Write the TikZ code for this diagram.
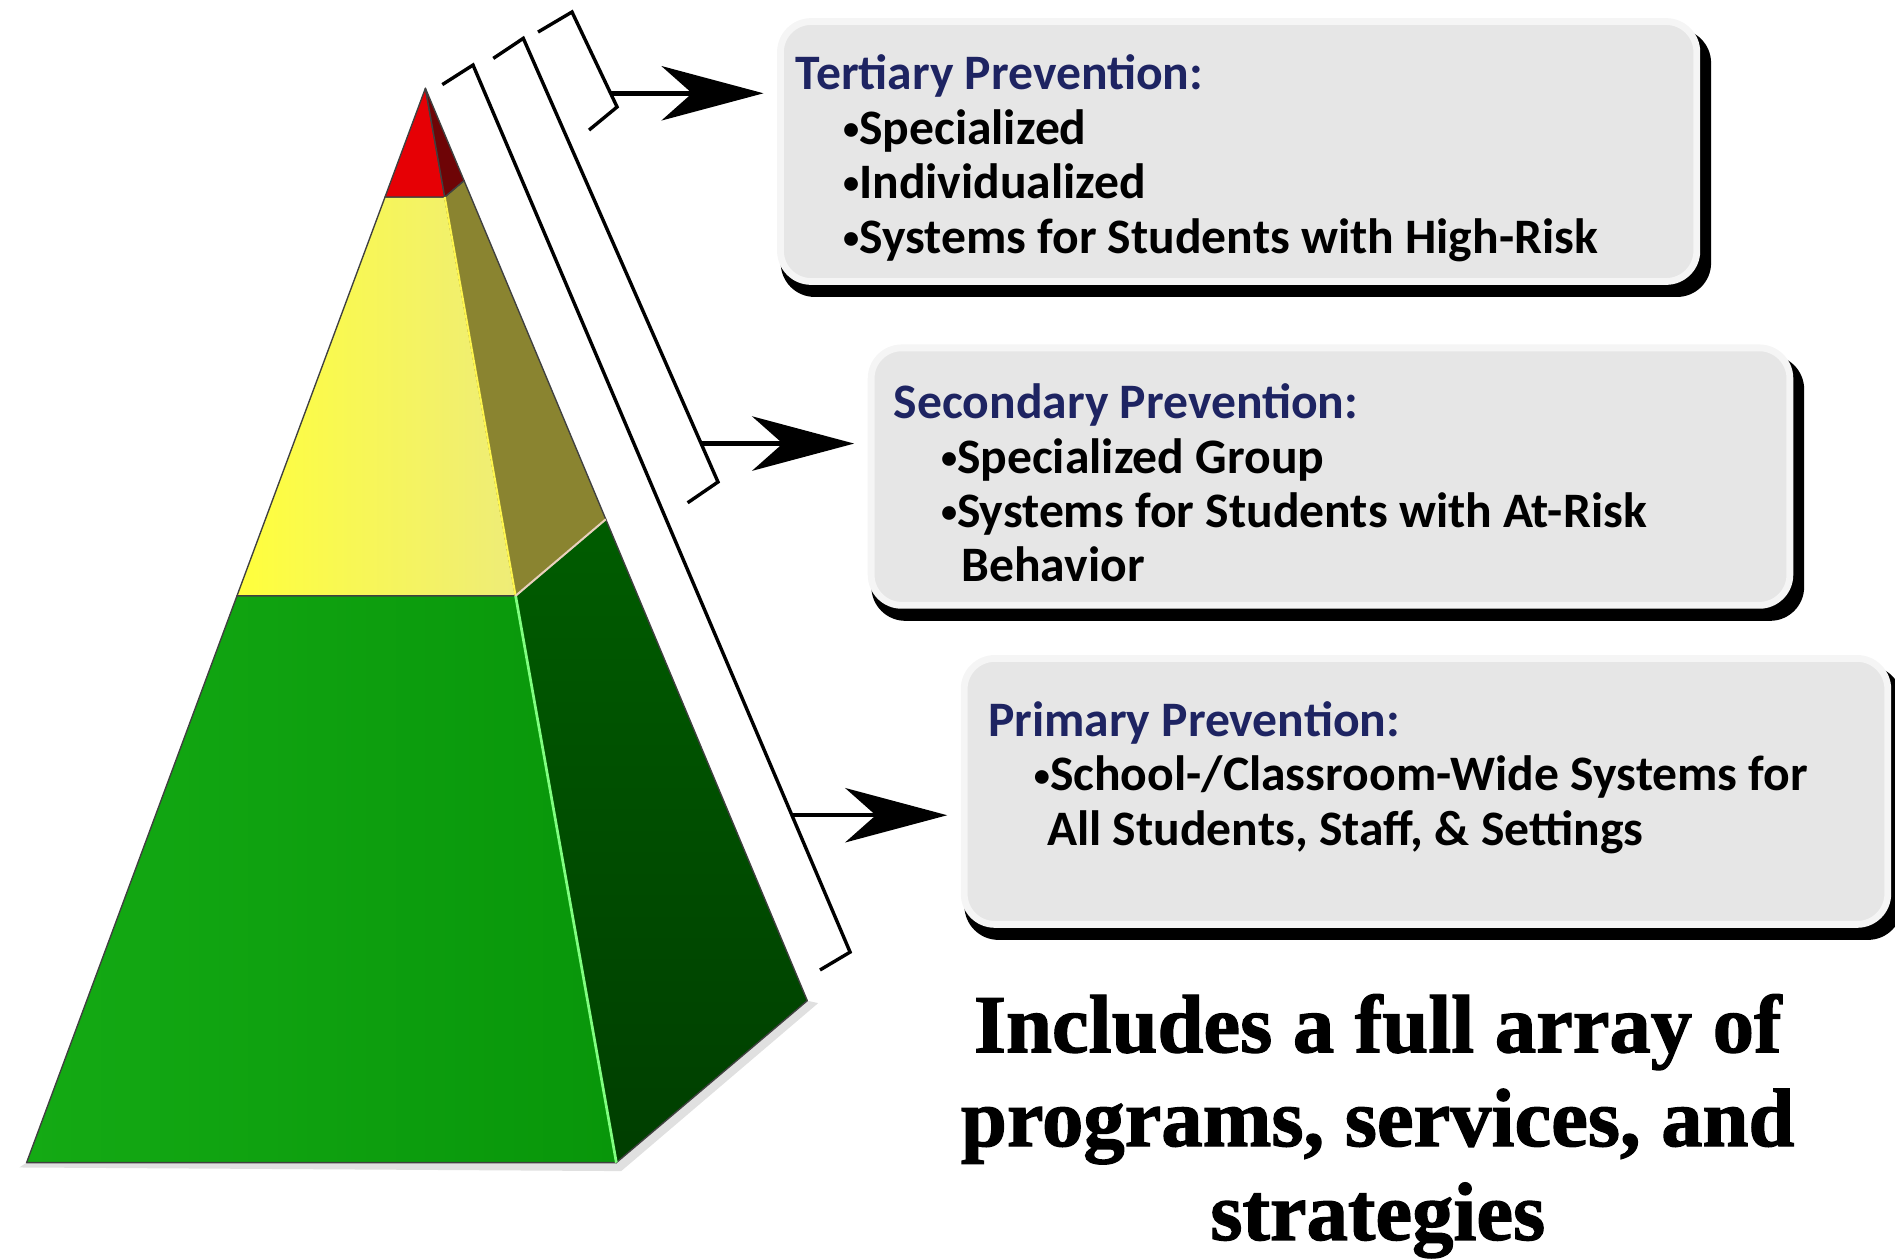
\documentclass[tikz,border=0pt]{standalone}
\usepackage{fontspec}
\usetikzlibrary{calc,arrows.meta,backgrounds}
\newfontfamily\tierfont{Carlito}
\newfontfamily\notefont[FakeBold=1.5]{Liberation Serif Bold}
\newcommand{\tierdot}{\raisebox{1.4pt}{\fontsize{9.5}{9.5}\selectfont•}}
\definecolor{boxgray}{HTML}{E6E6E6}
\definecolor{headnavy}{HTML}{1E2462}
\definecolor{redfront}{HTML}{E60005}
\definecolor{redside}{HTML}{6E0406}
\definecolor{yelside}{HTML}{8A8430}

\tikzset{
  tierbox/.style={rounded corners=9pt, fill=boxgray, draw=white!60!boxgray,
    line width=2pt, anchor=north west, inner sep=0pt},
  tiertext/.style={anchor=north west, inner sep=0pt, align=left,
    font=\tierfont\bfseries\fontsize{14.6}{16}\selectfont},
  tierarrow/.style={line width=1.3pt, -{Stealth[length=30pt,width=16pt,inset=9pt]},
    shorten >=4pt},
  bracketline/.style={line width=1pt},
  face/.style={draw=black!75, line width=0.4pt, line join=round}
}

\begin{document}
\begin{tikzpicture}[
  x=0.0125cm, y=-0.0125cm
]
\useasboundingbox (0,0) rectangle (1568,1041);

% pyramid corners, bands cut at the same height on every edge
\coordinate (apex) at (352,73);
\coordinate (fl) at (22,962);
\coordinate (fr) at (510,962);
\coordinate (br) at (668,828);
\coordinate (rl) at ($(apex)!0.1012!(fl)$);
\coordinate (rr) at ($(apex)!0.1012!(fr)$);
\coordinate (rb) at ($(apex)!0.1012!(br)$);
\coordinate (yl) at ($(apex)!0.4724!(fl)$);
\coordinate (yr) at ($(apex)!0.4724!(fr)$);
\coordinate (yb) at ($(apex)!0.4724!(br)$);

% soft ground shadow
\fill [black!12] ($(fl)+(-6,4)$) -- ($(fr)+(4,7)$) -- ($(br)+(9,2)$) -- (br) -- (fr) -- (fl) -- cycle;

% front faces
\shadedraw [face, left color={rgb,255:red,20;green,170;blue,20}, right color={rgb,255:red,8;green,150;blue,10}]
  (yl) -- (yr) -- (fr) -- (fl) -- cycle;
\shadedraw [face, left color={rgb,255:red,255;green,255;blue,60}, right color={rgb,255:red,238;green,236;blue,120}]
  (rl) -- (rr) -- (yr) -- (yl) -- cycle;
\filldraw [face, fill=redfront] (apex) -- (rr) -- (rl) -- cycle;

% side faces
\shadedraw [face, top color={rgb,255:red,0;green,92;blue,0}, bottom color={rgb,255:red,0;green,62;blue,0}]
  (yr) -- (yb) -- (br) -- (fr) -- cycle;
\filldraw [face, fill=yelside] (rr) -- (rb) -- (yb) -- (yr) -- cycle;
\filldraw [face, fill=redside] (apex) -- (rb) -- (rr) -- cycle;

% light edges
\draw [green!50!white, line width=0.8pt] (yr) -- (fr);
\draw [yellow!70!white, line width=0.6pt] (rr) -- (yr);
\draw [brown!35!white, line width=0.6pt] (yr) -- (yb);

% brackets along the slope
\coordinate (pritop) at (391.4,53.8);
\coordinate (pribot) at (703.4,787.8);
\coordinate (sectop) at (433,31.7);
\coordinate (secbot) at (594.1,398.8);
\coordinate (tertop) at (473.3,9.9);
\coordinate (terbot) at (510.6,88.5);
\draw [bracketline] (366,70) -- (pritop) -- (pribot) -- (678.5,802.6);
\draw [bracketline] (408.2,48.3) -- (sectop) -- (secbot) -- (569,416);
\draw [bracketline] (445.2,26.5) -- (tertop) -- (terbot) -- (487.4,107.6);
\coordinate (priout) at ($(pritop)!0.8457!(pribot)$);
\coordinate (secout) at ($(sectop)!0.9134!(secbot)$);
\coordinate (terout) at ($(tertop)!0.856!(terbot)$);

% boxes
\node [tierbox, minimum width=9.475cm, minimum height=2.6875cm] (ter) at (643,15) {};
\node [tierbox, minimum width=9.5cm, minimum height=2.6625cm] (sec) at (718,285) {};
\node [tierbox, minimum width=9.55cm, minimum height=2.75cm] (pri) at (795,542) {};
\begin{scope}[on background layer]
\fill [black, rounded corners=10pt] ([shift={(3,9)}]ter.north west) rectangle ([shift={(9,10)}]ter.south east);
\fill [black, rounded corners=10pt] ([shift={(3,9)}]sec.north west) rectangle ([shift={(9,10)}]sec.south east);
\fill [black, rounded corners=10pt] ([shift={(3,9)}]pri.north west) rectangle ([shift={(9,10)}]pri.south east);
\end{scope}

\node [tiertext] (tertext) at (658,45) {\textcolor{headnavy}{Tertiary Prevention:}\\
  \hspace*{13.9pt}\tierdot Specialized\\
  \hspace*{13.9pt}\tierdot Individualized\\
  \hspace*{13.9pt}\tierdot Systems for Students with High-Risk};
\node [tiertext] (sectext) at (739,317) {\textcolor{headnavy}{Secondary Prevention:}\\
  \hspace*{13.9pt}\tierdot Specialized Group\\
  \hspace*{13.9pt}\tierdot Systems for Students with At-Risk\\
  \hspace*{19.9pt}Behavior};
\node [tiertext] (pritext) at (817,580) {\textcolor{headnavy}{Primary Prevention:}\\
  \hspace*{13.5pt}\tierdot School-/Classroom-Wide Systems for\\
  \hspace*{17.4pt}All Students, Staff, \& Settings};

\draw [tierarrow] (terout) -- (terout -| ter.west);
\draw [tierarrow] (secout) -- (secout -| sec.west);
\draw [tierarrow] (priout) -- (priout -| pri.west);

\node [anchor=north, inner sep=0pt, align=center,
  font=\notefont\fontsize{24.3}{27.6}\selectfont] (note) at (1140,822)
  {Includes a full array of\\programs, services, and\\strategies};
\end{tikzpicture}
\end{document}
